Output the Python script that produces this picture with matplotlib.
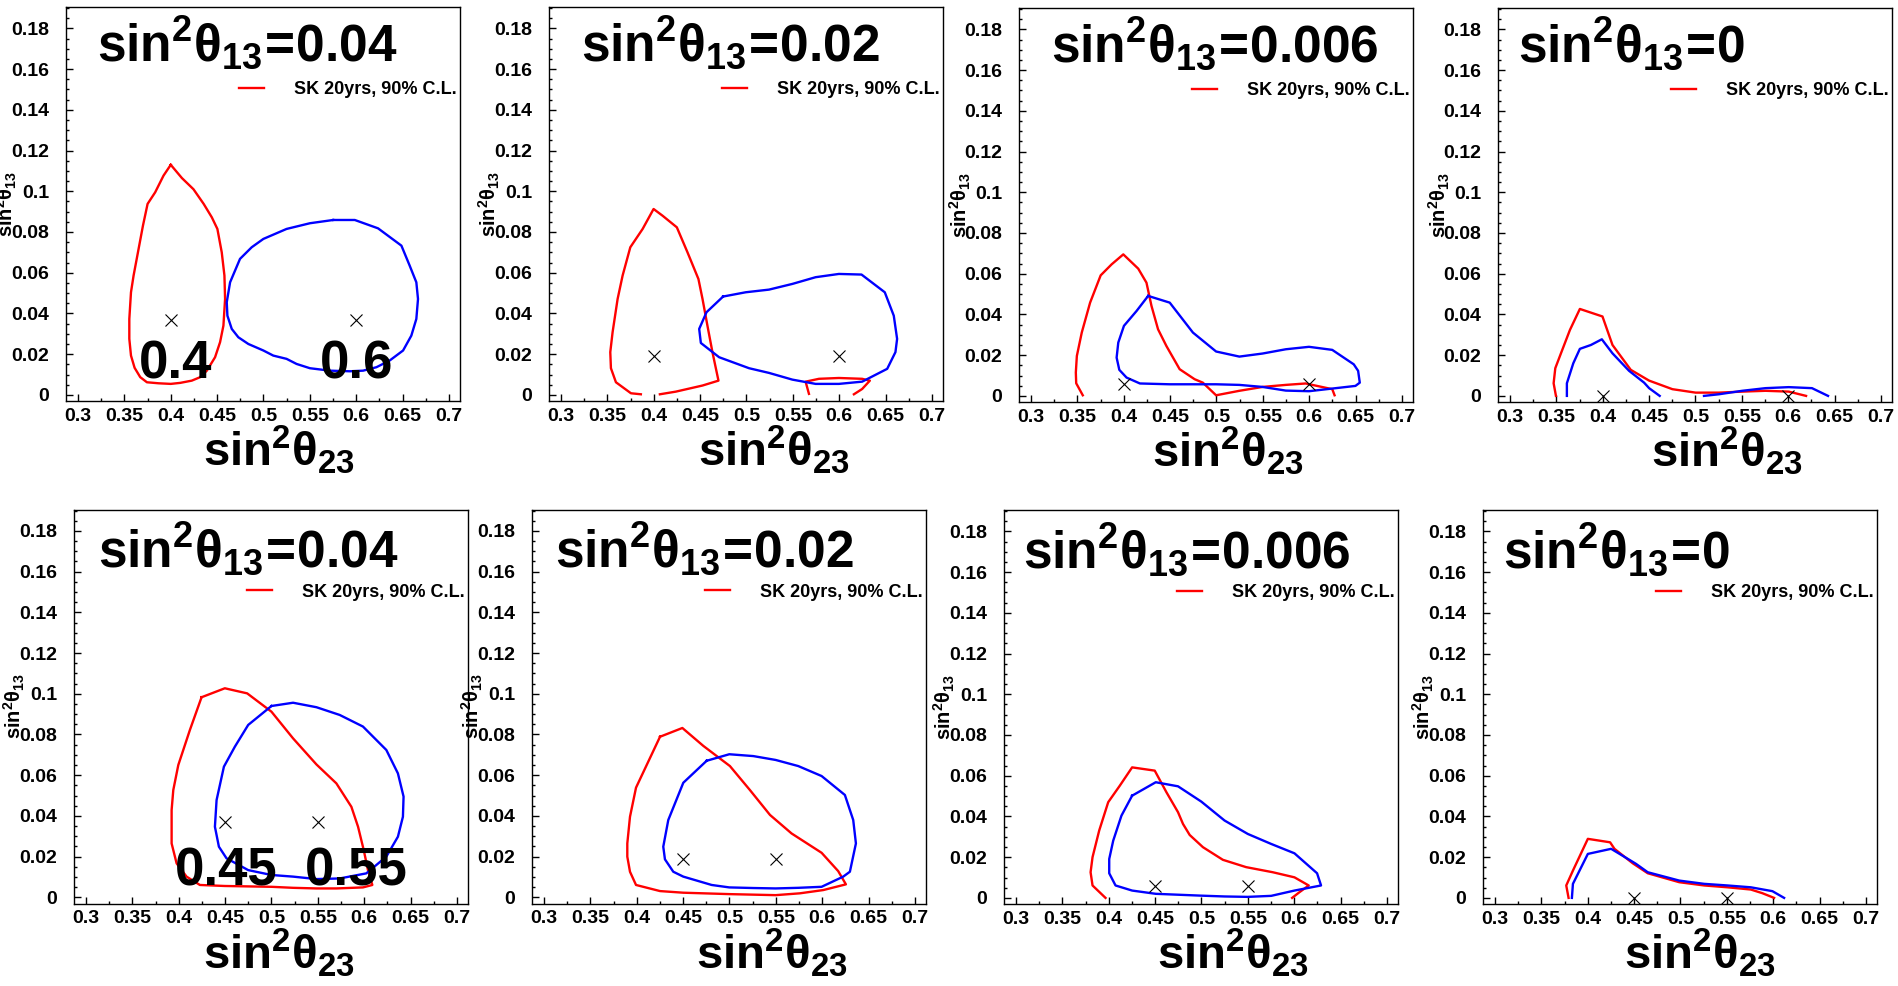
import matplotlib.pyplot as plt
import numpy as np
from matplotlib.ticker import MultipleLocator, FuncFormatter

plt.rcParams["font.family"] = ["Liberation Sans", "DejaVu Sans"]
plt.rcParams["font.weight"] = "bold"
plt.rcParams["mathtext.fontset"] = "custom"
plt.rcParams["mathtext.rm"] = "Liberation Sans"
plt.rcParams["mathtext.bf"] = "Liberation Sans:bold"
plt.rcParams["mathtext.it"] = "Liberation Sans:italic"

# true sin^2(theta13) per column, true sin^2(theta23) per row
s13_labels = ["0.04", "0.02", "0.006", "0"]
s13_marks = [0.037, 0.019, 0.006, 0.0]
s23_top = [0.4, 0.6]
s23_bottom = [0.45, 0.55]

# ---- top row: sin^2 theta23 = 0.4 (red) / 0.6 (blue) ----
top1_red = [np.array([
    [0.400, 0.113], [0.412, 0.1065], [0.4245, 0.101], [0.4355, 0.0938], [0.4443, 0.0872],
    [0.4503, 0.0815], [0.455, 0.070], [0.4579, 0.0586], [0.4586, 0.0471], [0.4568, 0.034],
    [0.4532, 0.0259], [0.4478, 0.0185], [0.4389, 0.0119], [0.4317, 0.0087], [0.4227, 0.007],
    [0.4102, 0.0059], [0.400, 0.0054], [0.3868, 0.0057], [0.3743, 0.0062], [0.3671, 0.0087],
    [0.361, 0.0133], [0.3571, 0.0193], [0.3553, 0.0275], [0.3553, 0.0373], [0.3571, 0.0504],
    [0.3599, 0.0586], [0.3646, 0.070], [0.370, 0.0831], [0.375, 0.0938], [0.3832, 0.0995],
    [0.3922, 0.1077], [0.400, 0.113]])]
top1_blue = [np.array([
    [0.5752, 0.0859], [0.5985, 0.0859], [0.6236, 0.0818], [0.6488, 0.0733], [0.6577, 0.0635],
    [0.6649, 0.0553], [0.6667, 0.0471], [0.6649, 0.0373], [0.6595, 0.0291], [0.6506, 0.0218],
    [0.6362, 0.0169], [0.6219, 0.0136], [0.6075, 0.0119], [0.5932, 0.0116], [0.5716, 0.0119],
    [0.5501, 0.0131], [0.5357, 0.0152], [0.5249, 0.0177], [0.5106, 0.0193], [0.4999, 0.0218],
    [0.4837, 0.025], [0.4729, 0.0283], [0.4658, 0.0324], [0.4611, 0.0389], [0.4604, 0.0455],
    [0.464, 0.0553], [0.4747, 0.0668], [0.4873, 0.0725], [0.4999, 0.0766], [0.5249, 0.0815],
    [0.5501, 0.0843], [0.5752, 0.0859]])]

top2_red = [np.array([
    [0.3861, 0.0003], [0.3754, 0.0008], [0.3592, 0.0062], [0.3538, 0.0131], [0.3531, 0.021],
    [0.3556, 0.0308], [0.361, 0.0471], [0.3664, 0.0586], [0.3747, 0.0725], [0.388, 0.0815],
    [0.3998, 0.0913], [0.4095, 0.088], [0.4249, 0.0823], [0.4364, 0.070], [0.4482, 0.0569],
    [0.4526, 0.0471], [0.4579, 0.034], [0.4633, 0.021], [0.4698, 0.007], [0.4526, 0.0046],
    [0.4238, 0.0016], [0.4066, 0.0003]]),
    np.array([
    [0.5674, 0.0005], [0.5638, 0.0065], [0.5782, 0.0079], [0.5997, 0.0083], [0.6248, 0.0079],
    [0.6331, 0.007], [0.6248, 0.0029], [0.6159, 0.0003]])]
top2_blue = [np.array([
    [0.4748, 0.0483], [0.4992, 0.0504], [0.5243, 0.0517], [0.5495, 0.0545], [0.5746, 0.0578],
    [0.5997, 0.0594], [0.6241, 0.0591], [0.6492, 0.0504], [0.6589, 0.0389], [0.6625, 0.0275],
    [0.6607, 0.021], [0.6518, 0.0128], [0.6248, 0.0065], [0.5997, 0.0054], [0.5746, 0.0054],
    [0.5495, 0.0075], [0.5243, 0.0108], [0.5028, 0.0131], [0.4705, 0.0185], [0.4508, 0.0255],
    [0.449, 0.0324], [0.4569, 0.0406], [0.4748, 0.0483]])]

top3_red = [np.array([
    [0.3558, 0.0003], [0.3487, 0.0062], [0.3483, 0.0115], [0.3494, 0.0196], [0.3547, 0.0311],
    [0.3637, 0.0458], [0.3751, 0.0592], [0.3869, 0.0646], [0.3995, 0.0695], [0.4156, 0.0625],
    [0.4245, 0.0556], [0.4299, 0.0442], [0.437, 0.0327], [0.446, 0.0245], [0.4603, 0.0131],
    [0.4764, 0.0082], [0.4853, 0.0065], [0.4996, 0.0003], [0.5247, 0.0025], [0.5497, 0.0044],
    [0.5748, 0.0054], [0.5962, 0.0061], [0.6249, 0.0033], [0.6274, 0.0003]])]
top3_blue = [np.array([
    [0.4263, 0.0491], [0.4496, 0.0458], [0.4746, 0.0311], [0.4996, 0.0218], [0.5247, 0.0193],
    [0.5497, 0.0208], [0.5748, 0.0229], [0.5998, 0.0241], [0.6249, 0.0226], [0.6481, 0.0155],
    [0.6528, 0.0123], [0.6546, 0.0065], [0.6499, 0.0049], [0.6249, 0.0036], [0.5998, 0.0023],
    [0.5748, 0.0026], [0.5497, 0.0044], [0.5247, 0.0054], [0.4996, 0.0057], [0.4496, 0.0057],
    [0.4174, 0.0061], [0.403, 0.009], [0.3952, 0.0128], [0.3923, 0.0188], [0.3941, 0.0262],
    [0.4002, 0.0344], [0.4138, 0.0417], [0.4263, 0.0491]])]

top4_red = [np.array([
    [0.3495, 0.0], [0.347, 0.0062], [0.3488, 0.0136], [0.3549, 0.0209], [0.3646, 0.0324],
    [0.3753, 0.0427], [0.3997, 0.039], [0.4105, 0.025], [0.4302, 0.0128], [0.450, 0.0075],
    [0.4751, 0.0033], [0.5002, 0.0016], [0.5253, 0.0016], [0.5504, 0.0021], [0.5755, 0.0025],
    [0.6006, 0.0021], [0.6193, 0.0]])]
top4_blue = [np.array([
    [0.3613, 0.0], [0.3613, 0.0062], [0.3682, 0.016], [0.3753, 0.0231], [0.3872, 0.025],
    [0.399, 0.0278], [0.4105, 0.0209], [0.4284, 0.0123], [0.4446, 0.0065], [0.450, 0.0038],
    [0.4614, 0.0]]),
    np.array([
    [0.5092, 0.0], [0.5253, 0.0008], [0.5504, 0.0025], [0.5755, 0.0038], [0.6006, 0.0043],
    [0.6257, 0.0038], [0.643, 0.0]])]

# ---- bottom row: sin^2 theta23 = 0.45 (red) / 0.55 (blue) ----
bot1_red = [np.array([
    [0.4246, 0.0983], [0.4497, 0.1027], [0.4738, 0.1002], [0.500, 0.0912], [0.5233, 0.0781],
    [0.5485, 0.0653], [0.570, 0.056], [0.5862, 0.0445], [0.5934, 0.0347], [0.5995, 0.0233],
    [0.6041, 0.0134], [0.6088, 0.0061], [0.5987, 0.0049], [0.570, 0.0044], [0.5485, 0.0044],
    [0.5233, 0.0047], [0.500, 0.0052], [0.4497, 0.0056], [0.4228, 0.0061], [0.4084, 0.0102],
    [0.3977, 0.0167], [0.3923, 0.0265], [0.3923, 0.0429], [0.3941, 0.0527], [0.3995, 0.065],
    [0.412, 0.0822], [0.4246, 0.0983]])]
bot1_blue = [np.array([
    [0.500, 0.094], [0.5233, 0.0956], [0.5485, 0.0934], [0.5736, 0.0896], [0.5987, 0.0839],
    [0.6239, 0.0724], [0.6364, 0.0609], [0.6425, 0.0495], [0.6418, 0.0396], [0.6364, 0.0298],
    [0.6239, 0.020], [0.6023, 0.0118], [0.5736, 0.0093], [0.5485, 0.009], [0.5233, 0.0102],
    [0.500, 0.011], [0.4749, 0.0134], [0.4515, 0.0192], [0.4433, 0.0249], [0.439, 0.0347],
    [0.4408, 0.0478], [0.4487, 0.0642], [0.4605, 0.074], [0.4749, 0.0847], [0.500, 0.094]])]

bot2_red = [np.array([
    [0.4251, 0.0789], [0.4492, 0.0832], [0.4718, 0.0744], [0.5005, 0.0645], [0.5221, 0.0527],
    [0.5437, 0.0405], [0.567, 0.0314], [0.5994, 0.0219], [0.6173, 0.0129], [0.6256, 0.0064],
    [0.6012, 0.0036], [0.576, 0.002], [0.5498, 0.0011], [0.5005, 0.0016], [0.4502, 0.0023],
    [0.4251, 0.0031], [0.3992, 0.0061], [0.3927, 0.0126], [0.3898, 0.020], [0.3898, 0.0265],
    [0.3927, 0.0396], [0.3992, 0.0539], [0.4251, 0.0789]])]
bot2_blue = [np.array([
    [0.4754, 0.0671], [0.4998, 0.0703], [0.5257, 0.0694], [0.5498, 0.0675], [0.5742, 0.0645],
    [0.5994, 0.0596], [0.6245, 0.0503], [0.6335, 0.038], [0.6364, 0.0265], [0.6299, 0.0126],
    [0.6227, 0.0102], [0.5994, 0.0052], [0.5742, 0.0047], [0.5498, 0.0044], [0.5257, 0.0046],
    [0.4998, 0.0049], [0.4808, 0.0061], [0.4502, 0.0102], [0.4394, 0.0126], [0.4304, 0.0187],
    [0.4286, 0.0249], [0.434, 0.038], [0.4502, 0.0563], [0.4754, 0.0671]])]

bot3_red = [np.array([
    [0.3965, 0.0], [0.3825, 0.0061], [0.3804, 0.0126], [0.3825, 0.020], [0.3897, 0.0331],
    [0.3994, 0.047], [0.4119, 0.0551], [0.4252, 0.0641], [0.4496, 0.0625], [0.4622, 0.0519],
    [0.4747, 0.0421], [0.4801, 0.0363], [0.4873, 0.0309], [0.5016, 0.0249], [0.5231, 0.0187],
    [0.5482, 0.0151], [0.5769, 0.0126], [0.6003, 0.0101], [0.6157, 0.0061], [0.6057, 0.0028],
    [0.5978, 0.0]])]
bot3_blue = [np.array([
    [0.4252, 0.0502], [0.4507, 0.0568], [0.4747, 0.0548], [0.4998, 0.0473], [0.5249, 0.038],
    [0.550, 0.0314], [0.5752, 0.0265], [0.6003, 0.0219], [0.6247, 0.0121], [0.629, 0.0061],
    [0.6003, 0.0036], [0.5752, 0.001], [0.550, 0.0005], [0.5249, 0.0007], [0.4998, 0.0011],
    [0.4507, 0.002], [0.4252, 0.0036], [0.4073, 0.0061], [0.4005, 0.0121], [0.4005, 0.0191],
    [0.4048, 0.0281], [0.4137, 0.0404], [0.4252, 0.0502]])]

bot4_red = [np.array([
    [0.3793, 0.0], [0.3768, 0.0061], [0.384, 0.0134], [0.4001, 0.029], [0.4241, 0.0273],
    [0.4288, 0.0241], [0.4485, 0.017], [0.4647, 0.0121], [0.4987, 0.0077], [0.5256, 0.0061],
    [0.5508, 0.0052], [0.5759, 0.0041], [0.5884, 0.0023], [0.601, 0.0]])]
bot4_blue = [np.array([
    [0.3829, 0.0], [0.384, 0.0069], [0.4001, 0.0216], [0.4252, 0.0241], [0.4449, 0.0187],
    [0.4521, 0.0167], [0.4647, 0.0126], [0.4987, 0.0085], [0.5256, 0.0069], [0.5508, 0.0061],
    [0.5759, 0.0052], [0.5992, 0.0033], [0.6118, 0.0]])]

red_curves = [top1_red, top2_red, top3_red, top4_red, bot1_red, bot2_red, bot3_red, bot4_red]
blue_curves = [top1_blue, top2_blue, top3_blue, top4_blue, bot1_blue, bot2_blue, bot3_blue, bot4_blue]

# big value annotations drawn in two panels
big_labels = {0: (["0.4", "0.6"], [0.4047, 0.600], 0.0082),
              4: (["0.45", "0.55"], [0.451, 0.591], 0.006)}

# layout (pixels in a 1899x986 canvas)
W, H = 1899, 986
panel_left = [66, 549, 1019, 1498, 74, 532, 1004, 1483]
panel_bottom = [401, 401, 402, 402, 903.5, 903.5, 904, 904]
panel_w, panel_h = 394, 394
title_x = [0.079, 0.082, 0.080, 0.052, 0.060, 0.058, 0.049, 0.050]
title_y = [0.861, 0.861, 0.861, 0.861, 0.852, 0.852, 0.852, 0.852]
xlabel_x = [0.54, 0.57, 0.53, 0.58, 0.52, 0.61, 0.58, 0.55]

fig = plt.figure(figsize=(W / 100, H / 100), dpi=100)

for i in range(8):
    col = i % 4
    ax = fig.add_axes([panel_left[i] / W, 1 - panel_bottom[i] / H, panel_w / W, panel_h / H])
    ax.set_xlim(0.287, 0.712)
    ax.set_ylim(-0.003, 0.1905)

    for k, seg in enumerate(red_curves[i]):
        ax.plot(seg[:, 0], seg[:, 1], color="#ff0000", lw=1.7,
                label="SK 20yrs, 90% C.L." if k == 0 else None)
    for seg in blue_curves[i]:
        ax.plot(seg[:, 0], seg[:, 1], color="#0000ff", lw=1.7)

    s23 = s23_top if i < 4 else s23_bottom
    ax.plot(s23, [s13_marks[col]] * 2, ls="none", marker="x", color="black",
            markersize=8, mew=0.8)

    if i in big_labels:
        texts, xs, yb = big_labels[i]
        for t, xv in zip(texts, xs):
            ax.text(xv, yb, t, fontsize=38, fontweight="bold", ha="center", va="baseline")

    ax.text(title_x[i], title_y[i],
            r"$\mathbf{sin}^{\mathbf{2}}\mathrm{\theta}_{\mathbf{13}}\!\mathbf{=}\!\mathbf{"
            + s13_labels[col] + "}$",
            transform=ax.transAxes, fontsize=37, ha="left", va="baseline")
    ax.text(xlabel_x[i], -0.165,
            r"$\mathbf{sin}^{\mathbf{2}}\mathrm{\theta}_{\mathbf{23}}$",
            transform=ax.transAxes, fontsize=34, ha="center", va="baseline")
    ax.text(-0.15, 0.5, r"$\mathbf{sin}^{\mathbf{2}}\mathrm{\theta}_{\mathbf{13}}$",
            transform=ax.transAxes, fontsize=14.5, rotation=90, ha="center", va="center")

    ax.legend(loc="center left", bbox_to_anchor=(0.44, 0.79), frameon=False,
              borderpad=0, borderaxespad=0, handlelength=1.35, handletextpad=1.65,
              prop={"size": 13, "weight": "bold"})

    ax.xaxis.set_major_locator(MultipleLocator(0.05))
    ax.xaxis.set_minor_locator(MultipleLocator(0.025))
    ax.yaxis.set_major_locator(MultipleLocator(0.02))
    ax.yaxis.set_minor_locator(MultipleLocator(0.005))
    fmt = FuncFormatter(lambda v, p: f"{round(v, 4):g}")
    ax.xaxis.set_major_formatter(fmt)
    ax.yaxis.set_major_formatter(fmt)
    ax.tick_params(which="both", direction="in", top=False, right=False)
    ax.tick_params(which="major", length=5, width=1)
    ax.tick_params(which="minor", length=2.5, width=1)
    ax.tick_params(axis="x", which="major", labelsize=14, pad=5)
    ax.tick_params(axis="y", which="major", labelsize=14, pad=12)
    for lab in ax.get_xticklabels() + ax.get_yticklabels():
        lab.set_fontweight("bold")
    for sp in ax.spines.values():
        sp.set_linewidth(1)

fig.savefig("out.png", dpi=100)
